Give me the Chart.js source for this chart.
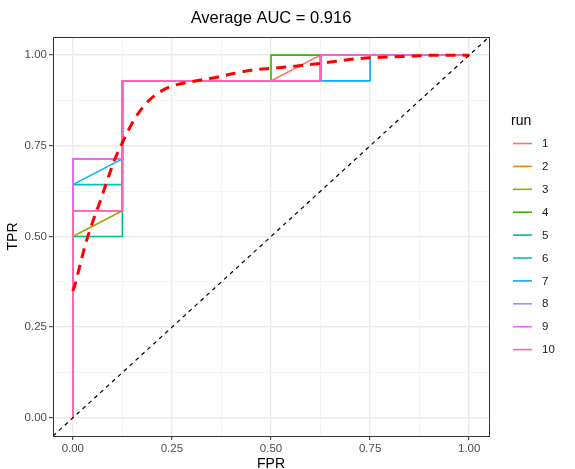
<!DOCTYPE html>
<html>
<head>
<meta charset="utf-8">
<script src="https://cdn.jsdelivr.net/npm/chart.js@4.4.1/dist/chart.umd.min.js"></script>
<style>
  html, body { margin: 0; padding: 0; background: #fff; }
  #wrap { width: 575px; height: 469px; }
</style>
</head>
<body>
<div id="wrap"><canvas id="roc"></canvas></div>
<script>
// ROC steps per run (FPR / TPR)
const runNames = ['1', '2', '3', '4', '5', '6', '7', '8', '9', '10'];
const runColors = ['#F8766D', '#D89000', '#A3A500', '#39B600', '#00BF7D',
                   '#00BFC4', '#00B0F6', '#9590FF', '#E76BF3', '#FF62BC'];
const runFpr = [
  [0, 0, 0.125, 0.125, 0.5, 0.625, 1],
  [0, 0, 0.125, 0.125, 0.625, 0.625, 1],
  [0, 0, 0.125, 0.125, 0.625, 0.625, 1],
  [0, 0, 0.125, 0.125, 0.5, 0.5, 1],
  [0, 0, 0.125, 0.125, 0.625, 0.625, 1],
  [0, 0, 0.125, 0.125, 0.625, 0.625, 1],
  [0, 0, 0.125, 0.125, 0.75, 0.75, 1],
  [0, 0, 0.125, 0.125, 0.625, 0.625, 1],
  [0, 0, 0.125, 0.125, 0.625, 0.625, 1],
  [0, 0, 0.125, 0.125, 0.625, 0.625, 1]
];
const runTpr = [
  [0, 0.571, 0.571, 0.929, 0.929, 1, 1],
  [0, 0.571, 0.571, 0.929, 0.929, 1, 1],
  [0, 0.5, 0.571, 0.929, 0.929, 1, 1],
  [0, 0.714, 0.714, 0.929, 0.929, 1, 1],
  [0, 0.5, 0.5, 0.929, 0.929, 1, 1],
  [0, 0.643, 0.643, 0.929, 0.929, 1, 1],
  [0, 0.643, 0.714, 0.929, 0.929, 1, 1],
  [0, 0.714, 0.714, 0.929, 0.929, 1, 1],
  [0, 0.714, 0.714, 0.929, 0.929, 1, 1],
  [0, 0.571, 0.571, 0.929, 0.929, 1, 1]
];

// averaged curve
const meanFpr = [0, 0.005, 0.02, 0.035, 0.05, 0.07, 0.09, 0.106, 0.13, 0.157, 0.19, 0.237,
                 0.295, 0.354, 0.409, 0.46, 0.505, 0.565, 0.63, 0.717, 0.78, 0.85, 0.92, 1];
const meanTpr = [0.35, 0.365, 0.43, 0.49, 0.54, 0.6, 0.665, 0.713, 0.77, 0.826, 0.873, 0.909,
                 0.926, 0.937, 0.95, 0.96, 0.964, 0.97, 0.978, 0.99, 0.994, 0.997, 1, 1];

const axisMin = -0.05;
const axisMax = 1.05;
const gridValues = [0, 0.125, 0.25, 0.375, 0.5, 0.625, 0.75, 0.875, 1];

const isMajor = v => Math.abs(v * 4 - Math.round(v * 4)) < 1e-9;
const FONT = '"Liberation Sans", Arial, sans-serif';

const datasets = [];
datasets.push({
  label: 'diag',
  data: [{x: axisMin, y: axisMin}, {x: axisMax, y: axisMax}],
  borderColor: '#000',
  borderWidth: 1.2,
  borderDash: [4, 4],
  pointRadius: 0,
  order: 0
});
datasets.push({
  label: 'mean',
  data: meanFpr.map((x, i) => ({x: x, y: meanTpr[i]})),
  borderColor: '#FF0000',
  borderWidth: 3,
  borderDash: [10, 7],
  cubicInterpolationMode: 'monotone',
  pointRadius: 0,
  order: 1
});
runNames.forEach((name, r) => {
  datasets.push({
    label: name,
    isRun: true,
    data: runFpr[r].map((x, i) => ({x: x, y: runTpr[r][i]})),
    borderColor: runColors[r],
    borderWidth: 1.6,
    pointRadius: 0,
    order: 12 - r
  });
});

function axisOpts(title, pad) {
  return {
    type: 'linear',
    min: axisMin,
    max: axisMax,
    afterBuildTicks: scale => { scale.ticks = gridValues.map(v => ({value: v})); },
    ticks: {
      autoSkip: false,
      maxRotation: 0,
      padding: 2,
      color: '#4D4D4D',
      font: {family: FONT, size: 11.5},
      callback: v => isMajor(v) ? v.toFixed(2) : ''
    },
    grid: {
      color: ctx => (ctx.tick && isMajor(ctx.tick.value)) ? '#EBEBEB' : '#F4F4F4',
      lineWidth: ctx => (ctx.tick && isMajor(ctx.tick.value)) ? 1.4 : 0.9,
      tickColor: ctx => (ctx.tick && isMajor(ctx.tick.value)) ? '#333333' : 'rgba(0,0,0,0)',
      tickLength: 4,
      tickWidth: 1
    },
    border: {display: false},
    title: {
      display: true,
      text: title,
      color: '#000',
      font: {family: FONT, size: 14, lineHeight: 1},
      padding: pad
    }
  };
}

const xOpts = axisOpts('FPR', {top: 0, bottom: -2});
xOpts.afterFit = scale => { scale.height = 33; };
const yOpts = axisOpts('TPR', {top: 6, bottom: 0});
yOpts.afterFit = scale => { scale.width = 53; };

// panel border + legend
const extras = {
  id: 'extras',
  afterDraw(chart) {
    const c = chart.ctx;
    const a = chart.chartArea;
    c.save();
    c.strokeStyle = '#333333';
    c.lineWidth = 1;
    c.strokeRect(Math.round(a.left) + 0.5, Math.round(a.top) + 0.5,
                 Math.round(a.right - a.left), Math.round(a.bottom - a.top));

    c.fillStyle = '#000';
    c.font = '14px ' + FONT;
    c.textBaseline = 'middle';
    c.textAlign = 'left';
    c.fillText('run', 511, 121);
    const runs = chart.data.datasets.filter(d => d.isRun);
    c.font = '11.5px ' + FONT;
    runs.forEach((d, i) => {
      const y = 143.5 + i * 22.9;
      c.strokeStyle = d.borderColor;
      c.lineWidth = 1.6;
      c.beginPath();
      c.moveTo(513, y);
      c.lineTo(532, y);
      c.stroke();
      c.fillStyle = '#1A1A1A';
      c.fillText(d.label, 542, y + 0.5);
    });
    c.restore();
  }
};

new Chart(document.getElementById('roc'), {
  type: 'line',
  data: {datasets: datasets},
  options: {
    responsive: true,
    maintainAspectRatio: false,
    animation: false,
    layout: {padding: {left: 0, right: 86, top: 0, bottom: 0}},
    scales: {x: xOpts, y: yOpts},
    plugins: {
      legend: {display: false},
      tooltip: {enabled: false},
      title: {
        display: true,
        text: 'Average AUC = 0.916',
        color: '#000',
        fullSize: false,
        font: {family: FONT, size: 16.5, weight: 'normal', lineHeight: 1.2},
        padding: {top: 8.5, bottom: 8.7}
      }
    }
  },
  plugins: [extras]
});
</script>
</body>
</html>
